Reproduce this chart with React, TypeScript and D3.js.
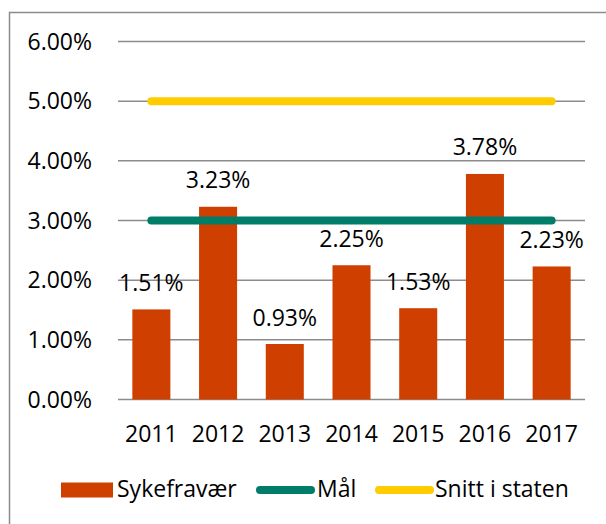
import React from 'react';
import * as d3 from 'd3';

const years = ['2011', '2012', '2013', '2014', '2015', '2016', '2017'];
const sykefravaer = [1.51, 3.23, 0.93, 2.25, 1.53, 3.78, 2.23];
const maal = [3, 3, 3, 3, 3, 3, 3];
const snittStaten = [5, 5, 5, 5, 5, 5, 5];
const yTicks = [0, 1, 2, 3, 4, 5, 6];

const W = 606;
const H = 524;
const FONT = '"Open Sans", sans-serif';
const BAR = '#CF4000';
const GREEN = '#007D68';
const YELLOW = '#FFCC00';

export default function App() {
  const x = d3.scaleBand().domain(years).range([118, 585]).paddingInner(0.43).paddingOuter(0.215);
  const y = d3.scaleLinear().domain([0, 6]).range([399.5, 41.5]);
  const cx = (d) => x(d) + x.bandwidth() / 2;

  const line = d3.line()
    .x((d, i) => cx(years[i]))
    .y((d) => y(d));

  return (
    <svg width={W} height={H} style={{ position: 'absolute', left: 0, top: 0, display: 'block' }}>
      <rect x={9.5} y={12.5} width={W + 10} height={H + 10} fill="#fff" stroke="#8c8c8c" strokeWidth={1.5} />

      <g>
        {yTicks.map((t) => (
          <g key={t}>
            <line x1={118} x2={585} y1={y(t)} y2={y(t)} stroke="#8c8c8c" strokeWidth={1.5} />
            <text x={92} y={y(t)} dy="0.36em" textAnchor="end" fontFamily={FONT} fontSize={23} fill="#000">
              {t.toFixed(2) + '%'}
            </text>
          </g>
        ))}
      </g>

      <g>
        {sykefravaer.map((v, i) => (
          <rect key={years[i]} x={x(years[i])} y={y(v)} width={x.bandwidth()} height={y(0) - y(v)} fill={BAR} />
        ))}
      </g>

      <path d={line(maal)} fill="none" stroke={GREEN} strokeWidth={8} strokeLinecap="round" />
      <path d={line(snittStaten)} fill="none" stroke={YELLOW} strokeWidth={8} strokeLinecap="round" />

      <g>
        {sykefravaer.map((v, i) => (
          <text key={years[i]} x={cx(years[i])} y={y(v) - 18.5} textAnchor="middle" fontFamily={FONT} fontSize={23} fill="#000">
            {v.toFixed(2) + '%'}
          </text>
        ))}
      </g>

      <g>
        {years.map((yr) => (
          <text key={yr} x={cx(yr)} y={441.5} textAnchor="middle" fontFamily={FONT} fontSize={23} fill="#000">
            {yr}
          </text>
        ))}
      </g>

      <g fontFamily={FONT} fontSize={23} fill="#000">
        <rect x={61} y={482.5} width={52} height={15} fill={BAR} />
        <text x={117} y={497}>Sykefravær</text>
        <line x1={260} x2={311} y1={490} y2={490} stroke={GREEN} strokeWidth={8} strokeLinecap="round" />
        <text x={317} y={497}>Mål</text>
        <line x1={379} x2={430} y1={490} y2={490} stroke={YELLOW} strokeWidth={8} strokeLinecap="round" />
        <text x={435} y={497}>Snitt i staten</text>
      </g>
    </svg>
  );
}
